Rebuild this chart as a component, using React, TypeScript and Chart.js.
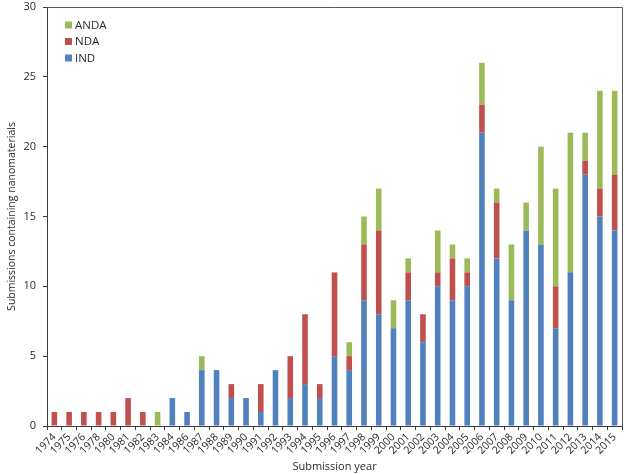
import React, { useEffect, useRef } from "react";
import { Chart, registerables } from "chart.js";

Chart.register(...registerables);

const years = [
  "1974", "1975", "1976", "1978", "1980", "1981", "1982", "1983", "1984", "1986",
  "1987", "1988", "1989", "1990", "1991", "1992", "1993", "1994", "1995", "1996",
  "1997", "1998", "1999", "2000", "2001", "2002", "2003", "2004", "2005", "2006",
  "2007", "2008", "2009", "2010", "2011", "2012", "2013", "2014", "2015",
];

const indValues = [
  0, 0, 0, 0, 0, 0, 0, 0, 2, 1,
  4, 4, 2, 2, 1, 4, 2, 3, 2, 5,
  4, 9, 8, 7, 9, 6, 10, 9, 10, 21,
  12, 9, 14, 13, 7, 11, 18, 15, 14,
];

const ndaValues = [
  1, 1, 1, 1, 1, 2, 1, 0, 0, 0,
  0, 0, 1, 0, 2, 0, 3, 5, 1, 6,
  1, 4, 6, 0, 2, 2, 1, 3, 1, 2,
  4, 0, 0, 0, 3, 0, 1, 2, 4,
];

const andaValues = [
  0, 0, 0, 0, 0, 0, 0, 1, 0, 0,
  1, 0, 0, 0, 0, 0, 0, 0, 0, 0,
  1, 2, 3, 2, 1, 0, 3, 1, 1, 3,
  1, 4, 2, 7, 7, 10, 2, 7, 6,
];

const yTicks = [0, 5, 10, 15, 20, 25, 30];

const FONT = "'Open Sans', 'Noto Sans', sans-serif";
const TEXT = "#2a2a2a";
const AXIS = "#3a3a3a";

const frameAndLegend = {
  id: "frameAndLegend",
  afterDraw(chart: any) {
    const { ctx, chartArea } = chart;
    ctx.save();
    ctx.strokeStyle = "#555555";
    ctx.lineWidth = 1;
    ctx.beginPath();
    ctx.moveTo(chartArea.left, Math.round(chartArea.top) + 0.5);
    ctx.lineTo(Math.round(chartArea.right) + 0.5, Math.round(chartArea.top) + 0.5);
    ctx.lineTo(Math.round(chartArea.right) + 0.5, chartArea.bottom);
    ctx.stroke();
    const ds = chart.data.datasets.slice().reverse();
    const x0 = chartArea.left + 18;
    let y0 = chartArea.top + 18;
    ctx.font = `11.5px ${FONT}`;
    ctx.textBaseline = "middle";
    ctx.textAlign = "left";
    ds.forEach((d: any) => {
      ctx.fillStyle = d.backgroundColor;
      ctx.fillRect(x0, y0 - 3.5, 7, 7);
      ctx.fillStyle = TEXT;
      ctx.fillText(d.label, x0 + 10, y0 + 0.5);
      y0 += 16.5;
    });
    ctx.restore();
  },
};

export default function App() {
  const ref = useRef<HTMLCanvasElement | null>(null);

  useEffect(() => {
    document.body.style.margin = "0";
    if (!ref.current) return;
    const barOpts = {
      categoryPercentage: 1,
      barPercentage: 0.38,
      borderWidth: 0,
    };
    const chart = new Chart(ref.current, {
      type: "bar",
      data: {
        labels: years,
        datasets: [
          { label: "IND", data: indValues, backgroundColor: "#4F81BD", ...barOpts },
          { label: "NDA", data: ndaValues, backgroundColor: "#C0504D", ...barOpts },
          { label: "ANDA", data: andaValues, backgroundColor: "#9BBB59", ...barOpts },
        ],
      },
      options: {
        animation: false,
        responsive: false,
        maintainAspectRatio: false,
        layout: { padding: { left: 0, top: 7, right: 3, bottom: 0 } },
        plugins: {
          legend: { display: false },
          tooltip: { enabled: false },
        },
        scales: {
          x: {
            stacked: true,
            offset: true,
            grid: {
              offset: true,
              drawOnChartArea: false,
              drawTicks: true,
              tickLength: 4,
              color: AXIS,
            },
            border: { color: AXIS, width: 1 },
            ticks: {
              autoSkip: false,
              maxRotation: 45,
              minRotation: 45,
              padding: 1,
              color: TEXT,
              font: { family: FONT, size: 10.5 },
            },
            title: {
              display: true,
              text: "Submission year",
              color: TEXT,
              font: { family: FONT, size: 11 },
              padding: { top: 0, bottom: 1 },
            },
            afterFit: (scale: any) => {
              scale.height = 48;
            },
          },
          y: {
            stacked: true,
            min: 0,
            max: 30,
            afterBuildTicks: (scale: any) => {
              scale.ticks = yTicks.map((v) => ({ value: v }));
            },
            grid: {
              drawOnChartArea: false,
              drawTicks: true,
              tickLength: 4,
              color: AXIS,
            },
            border: { color: AXIS, width: 1 },
            ticks: {
              padding: 7,
              color: TEXT,
              font: { family: FONT, size: 11 },
            },
            title: {
              display: true,
              text: "Submissions containing nanomaterials",
              color: TEXT,
              font: { family: FONT, size: 10.5 },
              padding: { top: 6, bottom: 0 },
            },
            afterFit: (scale: any) => {
              scale.width = 47;
              scale.paddingTop = 0;
              scale.paddingBottom = 0;
            },
          },
        },
      },
      plugins: [frameAndLegend],
    });
    return () => chart.destroy();
  }, []);

  return (
    <div style={{ width: 625, height: 474 }}>
      <canvas ref={ref} width={625} height={474} style={{ display: "block" }} />
    </div>
  );
}
